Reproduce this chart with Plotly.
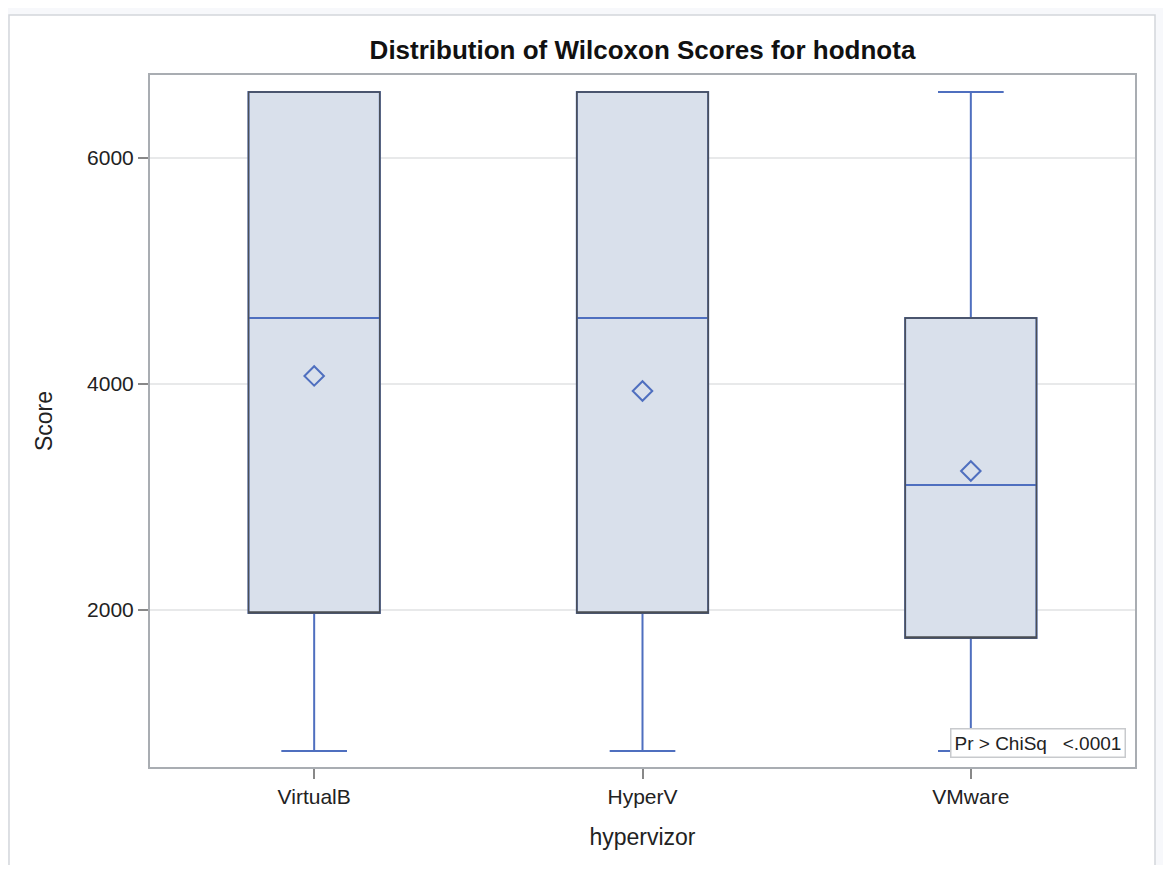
import plotly.graph_objects as go

categories = ["VirtualB", "HyperV", "VMware"]
q1 = [1973, 1973, 1752]
median = [4584, 4584, 3106]
q3 = [6584, 6584, 4584]
lower = [752, 752, 752]
upper = [6584, 6584, 6584]
mean = [4071, 3938, 3230]

BLUE = "#4f6fbf"
FILL = "#d9e0eb"
GRAY = "#4a4e54"
FONT = "Liberation Sans, Arial, sans-serif"

W, H = 1155, 857
L, T, PW, PH = 142, 67, 985, 692
R = W - L - PW
B = H - T - PH

fig = go.Figure()

# full box: whiskers, caps, median in blue
fig.add_trace(go.Box(
    x=categories, q1=q1, median=median, q3=q3,
    lowerfence=lower, upperfence=upper, width=0.4,
    fillcolor=FILL, line=dict(color=BLUE, width=2),
    whiskerwidth=0.5, boxpoints=False, showlegend=False, hoverinfo="skip",
))
# box outline in dark gray (median placed on q1 so the blue median stays visible)
fig.add_trace(go.Box(
    x=categories, q1=q1, median=q1, q3=q3,
    lowerfence=q1, upperfence=q3, width=0.4,
    fillcolor="rgba(0,0,0,0)", line=dict(color=GRAY, width=1.5),
    whiskerwidth=0, boxpoints=False, showlegend=False, hoverinfo="skip",
))
# means
fig.add_trace(go.Scatter(
    x=categories, y=mean, mode="markers",
    marker=dict(symbol="diamond-open", size=15, color=BLUE, line=dict(width=2, color=BLUE)),
    showlegend=False, hoverinfo="skip",
))

fig.update_layout(
    width=W, height=H,
    margin=dict(l=L, r=R, t=T, b=B),
    paper_bgcolor="#f7f8fb",
    plot_bgcolor="white",
    boxmode="overlay",
    font=dict(family=FONT, size=21, color="#222222"),
    title=dict(text="<b>Distribution of Wilcoxon Scores for hodnota</b>",
               x=0.5, xref="paper", xanchor="center",
               y=1 - 42 / H, yanchor="middle",
               font=dict(family=FONT, size=26, color="#111111")),
    shapes=[dict(type="rect", xref="paper", yref="paper",
                 x0=(1 - L) / PW, x1=(1147 - L) / PW,
                 y0=(T + PH - 864) / PH, y1=(T + PH - 7) / PH,
                 fillcolor="white", line=dict(color="#d3d6db", width=1.5),
                 layer="below")],
    annotations=[dict(text="Pr > ChiSq\u00a0\u00a0\u00a0<.0001", xref="paper", yref="paper",
                      x=1, y=0, xanchor="right", yanchor="bottom",
                      xshift=-9, yshift=9, showarrow=False,
                      font=dict(family=FONT, size=19, color="#222222"),
                      bgcolor="white", bordercolor="#c8cacd", borderwidth=1.5, borderpad=3)],
)

fig.update_xaxes(
    type="category",
    range=[-0.5, 2.5],
    showline=True, mirror=True, linecolor="#a9adb2", linewidth=2,
    ticks="outside", ticklen=10, tickcolor="#888888", tickwidth=1.5,
    showgrid=False,
    title=dict(text="hypervizor", standoff=22, font=dict(size=23)),
)
fig.update_yaxes(
    range=[611, 6734],
    tickvals=[2000, 4000, 6000],
    showline=True, mirror=True, linecolor="#a9adb2", linewidth=2,
    ticks="outside", ticklen=10, tickcolor="#888888", tickwidth=1.5,
    showgrid=True, gridcolor="#e8e9ea", gridwidth=1.5,
    zeroline=False,
    title=dict(text="Score", standoff=28, font=dict(size=23)),
)

fig.write_html("out.html")
